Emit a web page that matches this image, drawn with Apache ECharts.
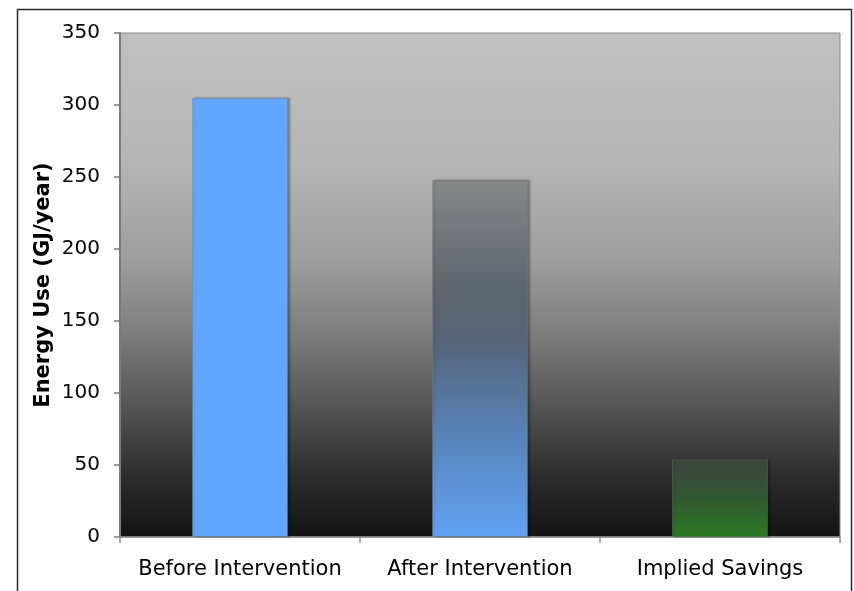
<!DOCTYPE html>
<html>
<head>
<meta charset="utf-8">
<script src="https://cdn.jsdelivr.net/npm/echarts@6/dist/echarts.min.js"></script>
<style>
  html, body { margin: 0; padding: 0; background: #ffffff; }
  #chart { width: 854px; height: 591px; }
</style>
</head>
<body>
<div id="chart"></div>
<script>
// Annual energy use before and after the intervention
const categories = ['Before Intervention', 'After Intervention', 'Implied Savings'];
const energyUse = [305, 248, 54];
const yTicks = { min: 0, max: 350, interval: 50 };

const FONT = '"DejaVu Sans", Verdana, sans-serif';

function vGrad(stops) {
  return new echarts.graphic.LinearGradient(0, 0, 0, 1,
    stops.map(s => ({ offset: s[0], color: s[1] })));
}

const barStyles = [
  { color: '#62a7ff' },
  { color: vGrad([[0, '#878787'], [0.3, '#5e666f'], [0.45, '#566478'], [0.7, '#5782b6'], [1, '#61a2f4']]) },
  { color: vGrad([[0, '#3f4540'], [0.5, '#305831'], [1, '#2a7a22']]) }
];

const chart = echarts.init(document.getElementById('chart'), null, { renderer: 'canvas' });

chart.setOption({
  animation: false,
  backgroundColor: '#ffffff',
  graphic: [{
    type: 'rect',
    left: 15, top: 7,
    shape: { width: 834, height: 600 },
    style: { fill: 'none', stroke: '#2a2a2a', lineWidth: 1.5 },
    silent: true, z: -1
  }],
  grid: {
    left: 120, top: 33, right: 14, bottom: 54,
    show: true,
    borderWidth: 1,
    borderColor: '#8a8a8a',
    backgroundColor: vGrad([
      [0, '#c0c0c0'], [0.25, '#b6b6b6'], [0.45, '#9e9e9e'],
      [0.6, '#7c7c7c'], [0.75, '#525252'], [0.88, '#2c2c2c'], [1, '#131313']
    ])
  },
  xAxis: {
    type: 'category',
    data: categories,
    axisLine: { show: true, lineStyle: { color: '#8a8a8a', width: 1.5 } },
    axisTick: { show: true, interval: 0, length: 6, lineStyle: { color: '#8a8a8a', width: 1.5 } },
    axisLabel: { interval: 0, color: '#000000', fontFamily: FONT, fontSize: 21, margin: 22 }
  },
  yAxis: {
    type: 'value',
    min: yTicks.min, max: yTicks.max, interval: yTicks.interval,
    name: 'Energy Use (GJ/year)',
    nameLocation: 'middle',
    nameGap: 66,
    nameMoveOverlap: false,
    nameTextStyle: { color: '#000000', fontFamily: FONT, fontSize: 21, fontWeight: 'bold' },
    axisLine: { show: true, lineStyle: { color: '#7a7a7a', width: 2 } },
    axisTick: { show: true, length: 6, lineStyle: { color: '#7a7a7a', width: 1.5 } },
    splitLine: { show: false },
    axisLabel: { color: '#000000', fontFamily: FONT, fontSize: 20, margin: 20 }
  },
  series: [{
    type: 'bar',
    barWidth: '40%',
    data: energyUse.map((v, i) => ({
      value: v,
      itemStyle: Object.assign({
        borderColor: 'rgba(120,120,120,0.35)',
        borderWidth: 1,
        shadowColor: 'rgba(0,0,0,0.3)',
        shadowOffsetX: 2,
        shadowOffsetY: 0,
        shadowBlur: 2
      }, barStyles[i])
    }))
  }]
});
</script>
</body>
</html>
